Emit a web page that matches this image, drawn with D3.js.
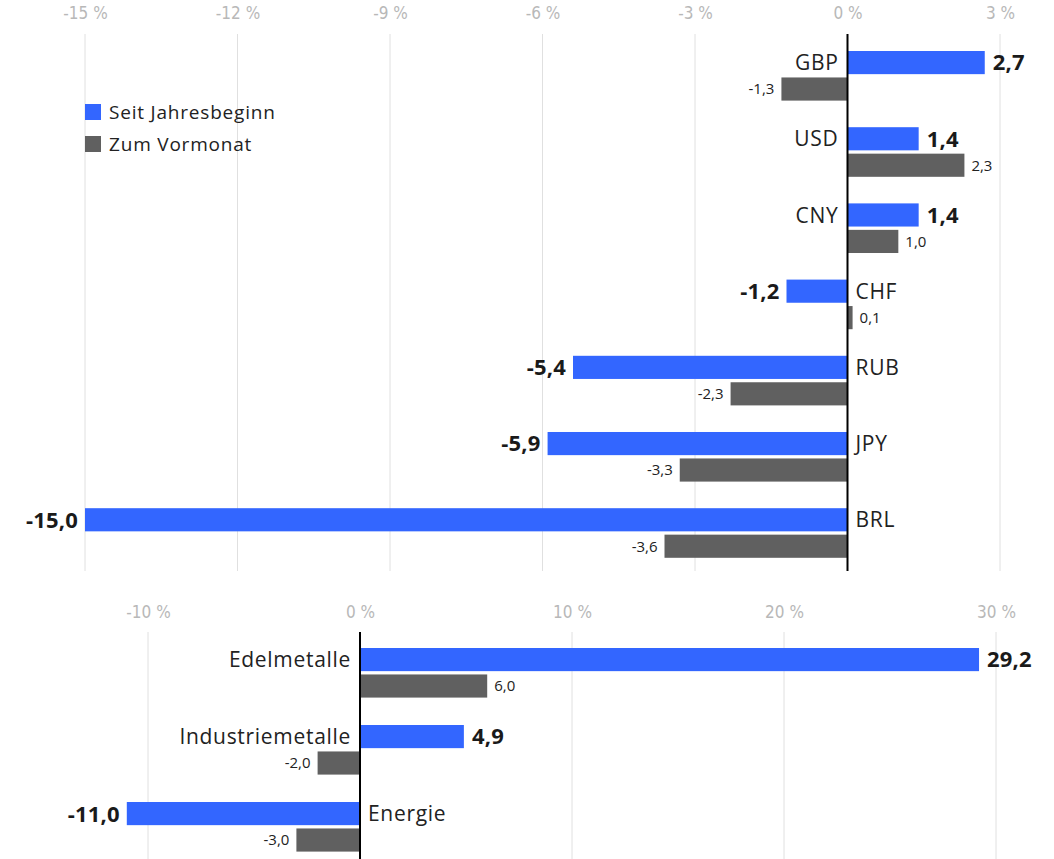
<!DOCTYPE html>
<html><head><meta charset="utf-8">
<script src="https://cdn.jsdelivr.net/npm/d3@7"></script>
<style>
html,body{margin:0;padding:0;background:#fff;}
svg{display:block;font-family:"Open Sans","Noto Sans",sans-serif;}
</style></head>
<body>
<svg id="chart" width="1054" height="859"></svg>
<script>
// ---- data ----
const fxCategories = ["GBP","USD","CNY","CHF","RUB","JPY","BRL"];
const fxYtd = [2.7, 1.4, 1.4, -1.2, -5.4, -5.9, -15.0];
const fxMom = [-1.3, 2.3, 1.0, 0.1, -2.3, -3.3, -3.6];
const fxTicks = [-15, -12, -9, -6, -3, 0, 3];

const cmCategories = ["Edelmetalle","Industriemetalle","Energie"];
const cmYtd = [29.2, 4.9, -11.0];
const cmMom = [6.0, -2.0, -3.0];
const cmTicks = [-10, 0, 10, 20, 30];

const seriesKeys = ["ytd","mom"];
const seriesNames = ["Seit Jahresbeginn","Zum Vormonat"];
const seriesColors = ["#3366ff","#606060"];

const svg = d3.select("#chart");
const fmt = v => d3.format(".1f")(v).replace(".", ",").replace("−","-");
const tickFmt = v => String(v) + " %";

function panel(cfg){
  const g = svg.append("g");
  const x = d3.scaleLinear().domain(cfg.domain).range(cfg.xRange);
  const y = d3.scaleBand().domain(cfg.categories).range(cfg.yRange).paddingInner(cfg.padInner).paddingOuter(0);
  const ys = d3.scaleBand().domain(seriesKeys).range([0, y.bandwidth()]).paddingInner(0.125);

  // grid
  g.append("g").selectAll("line").data(cfg.ticks.filter(t => t !== 0)).join("line")
    .attr("x1", d => x(d)).attr("x2", d => x(d))
    .attr("y1", cfg.gridTop).attr("y2", cfg.gridBottom)
    .attr("stroke", "#e0e0e0").attr("stroke-width", 1);

  // axis labels
  const ax = d3.axisTop(x).tickValues(cfg.ticks).tickSize(0).tickFormat(tickFmt);
  const axG = g.append("g").attr("transform", `translate(0,${cfg.labelY})`).call(ax);
  axG.select(".domain").remove();
  axG.selectAll("text")
    .attr("font-family", "'Liberation Sans Narrow','DejaVu Sans Condensed',sans-serif")
    .attr("font-size", 17).attr("fill", "#b8b8b8").attr("dy", 0);

  const rows = cfg.categories.map((c, i) => ({cat: c, ytd: cfg.ytd[i], mom: cfg.mom[i]}));

  rows.forEach(r => {
    seriesKeys.forEach((k, si) => {
      const v = r[k];
      const y0 = y(r.cat) + ys(k);
      const h = ys.bandwidth();
      g.append("rect")
        .attr("x", Math.min(x(0), x(v))).attr("width", Math.abs(x(v) - x(0)))
        .attr("y", y0).attr("height", h).attr("fill", seriesColors[si]);
      const pos = v >= 0;
      g.append("text")
        .attr("x", pos ? x(v) + (si === 0 ? 8 : 7) : x(v) - 7)
        .attr("y", y0 + h / 2).attr("dy", "0.36em")
        .attr("text-anchor", pos ? "start" : "end")
        .attr("font-size", si === 0 ? 22 : 15)
        .attr("font-weight", si === 0 ? 700 : 400)
        .attr("letter-spacing", si === 0 ? 0.2 : 0)
        .attr("fill", si === 0 ? "#1a1a1a" : "#222")
        .text(fmt(v));
    });
    // category label
    const right = r.ytd < 0;
    g.append("text")
      .attr("x", right ? x(0) + 8 : x(0) - 9)
      .attr("y", y(r.cat) + ys("ytd") + ys.bandwidth() / 2).attr("dy", "0.36em")
      .attr("text-anchor", right ? "start" : "end")
      .attr("font-size", 21).attr("letter-spacing", 0.7).attr("fill", "#222")
      .text(r.cat);
  });

  // zero line
  g.append("line").attr("x1", x(0)).attr("x2", x(0))
    .attr("y1", cfg.gridTop).attr("y2", cfg.gridBottom)
    .attr("stroke", "#000").attr("stroke-width", 2);
  return {x, y};
}

panel({
  categories: fxCategories, ytd: fxYtd, mom: fxMom, ticks: fxTicks,
  domain: [-15, 3], xRange: [85, 1000],
  yRange: [51, 557.8], padInner: 0.349,
  gridTop: 34, gridBottom: 571, labelY: 22
});

panel({
  categories: cmCategories, ytd: cmYtd, mom: cmMom, ticks: cmTicks,
  domain: [-10, 30], xRange: [148, 996],
  yRange: [648, 851.6], padInner: 0.356,
  gridTop: 632, gridBottom: 859, labelY: 621
});

// legend
const leg = svg.append("g").attr("transform", "translate(85,104)");
seriesNames.forEach((n, i) => {
  leg.append("rect").attr("x", 0).attr("y", i * 32).attr("width", 16).attr("height", 16).attr("fill", seriesColors[i]);
  leg.append("text").attr("x", 24).attr("y", i * 32 + 8).attr("dy", "0.36em")
    .attr("font-size", 19).attr("letter-spacing", 0.8).attr("fill", "#222").text(n);
});
</script>
</body></html>
